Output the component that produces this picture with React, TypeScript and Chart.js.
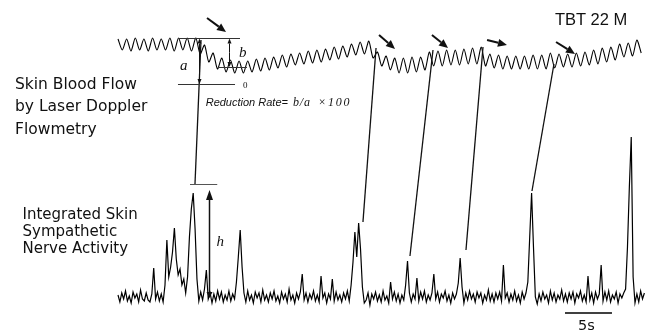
import React, { useEffect, useRef } from "react";
import { Chart, registerables } from "chart.js";

Chart.register(...registerables);

// ---- time base (seconds) ----
const BF_DT = 0.46; // sampling step of the blood-flow trace (s)
const SNA_DT = 0.2; // sampling step of the nerve-activity trace (s)
const X_MIN = -12.553;
const X_MAX = 57.128;

// ---- Skin blood flow (laser Doppler), arbitrary units, 0 = zero-flow line ----
const bloodFlow = [
  45, 34, 45, 33, 46, 34, 45, 33, 46, 34,
  45, 34, 46, 33, 46, 34, 46, 33, 46, 30,
  39, 22, 31, 15, 26, 12, 24, 11, 23, 11,
  23, 12, 25, 13, 26, 14, 27, 16, 29, 17,
  30, 19, 31, 20, 33, 21, 34, 22, 35, 24,
  37, 25, 38, 27, 40, 29, 42, 30, 43, 26,
  32, 18, 28, 14, 26, 11, 26, 11, 27, 12,
  27, 14, 32, 18, 33, 18, 34, 19, 34, 19,
  35, 20, 36, 20, 37, 18, 30, 16, 29, 15,
  28, 15, 28, 15, 28, 15, 29, 15, 29, 15,
  31, 16, 30, 17, 30, 17, 31, 18, 32, 19,
  34, 20, 36, 22, 37, 24, 40, 27, 41, 28,
  44, 31,
];

// ---- Integrated skin sympathetic nerve activity, arbitrary units, 0 = baseline ----
const nerveActivity = [
  2, -5, 4, -2, 6, -4, 1, -6, 5, -1, 3, -5, 7, -2, -4, 4, -3, -5, 3, 29,
  -2, 5, -4, 3, -5, 12, 57, 20, 30, 45, 69, 38, 22, 28, 12, 18, 4, 20, 60, 88,
  104, 68, 18, -4, 5, -3, 8, 27, -2, 4, -6, 3, -4, 6, -2, 5, -5, 2, -3, 6,
  -4, 3, -2, 15, 40, 67, 30, 4, -5, 6, -3, 2, -6, 5, -1, 4, -5, 7, -3, 2,
  -5, 4, -2, 6, -4, 1, -6, 5, -2, 3, -5, 8, -3, 2, -6, 4, -2, 5, 23, -3,
  4, -5, 3, -2, 6, -4, 2, -5, 21, -1, 4, -6, 3, -2, 18, -4, 5, -3, 2, -5,
  4, -2, 6, -4, 12, 35, 65, 40, 74, 48, 10, -6, -3, 4, -8, 3, -2, 5, -4, 2,
  -5, 6, -3, 1, -6, 15, -2, 5, -4, 3, -6, 2, -3, 12, 36, 4, -5, 3, -2, 19,
  -4, 5, -2, 6, -5, 2, -3, 4, 23, -2, 5, -5, 3, -1, 6, -4, 2, -6, 4, -2,
  3, 14, 39, 10, -6, 4, -3, 6, -2, 3, -5, 5, -1, 4, -6, 2, -3, 7, -4, 3,
  -5, 4, -2, 5, -4, 32, -1, 4, -5, 3, -3, 6, -4, 2, -6, 5, -2, 4, 15, 60,
  104, 50, 0, -7, 3, -4, 5, -2, 2, -6, 6, -3, 4, -5, 2, -2, 7, -4, 3, -5,
  4, -2, 5, -6, 3, -1, 6, -4, 2, -5, 21, -3, 4, -6, 5, -2, 3, 32, -4, 5,
  -3, 6, -5, 2, -2, 5, -6, 3, -1, 4, 8, 50, 110, 160, 20, -6, 3, -5, 6, -2, 4,
];

// ---- lines linking a flow reduction to its nerve burst ----
const linkFlowTime = [8.83, 27.45, 33.51, 38.83, 46.38];
const linkFlowValue = [44, 36, 34, 37, 20];
const linkNerveTime = [8.19, 26.06, 31.06, 37.02, 44.04];
const linkNerveValue = [113, 75, 41, 47, 106];

// ---- heavy arrows marking reductions (flow units) ----
const arrowStartTime = [9.47, 27.77, 33.4, 39.26, 46.6];
const arrowStartValue = [66, 49, 49, 44, 42];
const arrowEndTime = [11.49, 29.47, 35.11, 41.38, 48.62];
const arrowEndValue = [52, 35, 36, 39, 30];

// ---- reduction-rate construction (flow units) ----
const refTopValue = 46; // level before reduction
const refZeroValue = 0; // zero flow
const reducedValue = 17; // level after reduction
const aTime = 8.62;
const bTime = 11.81;
const topLineTimes = [6.38, 12.98];
const zeroLineTimes = [6.38, 12.45];
const bLineTimes = [10.64, 13.72];

// ---- burst height h (nerve units) ----
const hTime = 9.68;
const hTopValue = 107;
const hBottomValue = -1;
const hBarValue = 113;
const hBarTimes = [7.66, 10.56];

// ---- 5 s scale bar ----
const scaleBarTimes = [47.55, 52.55];
const scaleBarValue = -16;

function drawArrow(ctx: CanvasRenderingContext2D, x1: number, y1: number, x2: number, y2: number, head: number, width: number, lw: number) {
  const ang = Math.atan2(y2 - y1, x2 - x1);
  const bx = x2 - head * Math.cos(ang);
  const by = y2 - head * Math.sin(ang);
  ctx.lineWidth = lw;
  ctx.beginPath();
  ctx.moveTo(x1, y1);
  ctx.lineTo(bx, by);
  ctx.stroke();
  ctx.beginPath();
  ctx.moveTo(x2, y2);
  ctx.lineTo(bx + (width / 2) * Math.sin(ang), by - (width / 2) * Math.cos(ang));
  ctx.lineTo(bx - (width / 2) * Math.sin(ang), by + (width / 2) * Math.cos(ang));
  ctx.closePath();
  ctx.fill();
}

const annotate = {
  id: "annotate",
  afterDatasetsDraw(chart: any) {
    const { ctx, scales } = chart;
    const X = (t: number) => scales.x.getPixelForValue(t);
    const B = (v: number) => scales.yBF.getPixelForValue(v);
    const N = (v: number) => scales.yN.getPixelForValue(v);
    const crisp = (y: number) => Math.round(y) + 0.5;
    ctx.save();
    ctx.lineCap = "butt";

    // link lines
    ctx.strokeStyle = "#111";
    ctx.lineWidth = 1.3;
    for (let i = 0; i < linkFlowTime.length; i++) {
      ctx.beginPath();
      ctx.moveTo(X(linkFlowTime[i]), B(linkFlowValue[i]));
      ctx.lineTo(X(linkNerveTime[i]), N(linkNerveValue[i]));
      ctx.stroke();
    }

    // construction lines
    ctx.strokeStyle = "#333";
    ctx.lineWidth = 1;
    const hline = (y: number, x1: number, x2: number) => {
      ctx.beginPath();
      ctx.moveTo(x1, crisp(y));
      ctx.lineTo(x2, crisp(y));
      ctx.stroke();
    };
    hline(B(refTopValue), X(topLineTimes[0]), X(topLineTimes[1]));
    hline(B(refZeroValue), X(zeroLineTimes[0]), X(zeroLineTimes[1]));
    hline(B(reducedValue), X(bLineTimes[0]), X(bLineTimes[1]));
    ctx.strokeStyle = "#555";
    hline(N(hBarValue), X(hBarTimes[0]), X(hBarTimes[1]));

    // double arrows a and b
    ctx.strokeStyle = "#111";
    ctx.fillStyle = "#111";
    const dbl = (t: number, v1: number, v2: number) => {
      const x = Math.round(X(t)) + 0.5;
      const y1 = B(v1);
      const y2 = B(v2);
      const m = (y1 + y2) / 2;
      drawArrow(ctx, x, m, x, y1 + 0.5, 5, 4, 1);
      drawArrow(ctx, x, m, x, y2, 5, 4, 1);
    };
    dbl(aTime, refTopValue, refZeroValue);
    dbl(bTime, refTopValue, reducedValue);

    // h arrow
    const hx = Math.round(X(hTime)) + 0.5;
    drawArrow(ctx, hx, N(hBottomValue) - 8, hx, N(hTopValue), 10, 7, 1.5);
    drawArrow(ctx, hx, N(hBottomValue) - 8, hx, N(hBottomValue), 6, 6, 1.5);

    // heavy arrows
    for (let i = 0; i < arrowStartTime.length; i++) {
      drawArrow(ctx, X(arrowStartTime[i]), B(arrowStartValue[i]), X(arrowEndTime[i]), B(arrowEndValue[i]), 9, 8, 2);
    }

    // scale bar
    ctx.strokeStyle = "#000";
    ctx.lineWidth = 1.5;
    ctx.beginPath();
    ctx.moveTo(X(scaleBarTimes[0]), N(scaleBarValue));
    ctx.lineTo(X(scaleBarTimes[1]), N(scaleBarValue));
    ctx.stroke();

    ctx.restore();
  },
};

type TxtProps = {
  x: number;
  base: number;
  size: number;
  family: string;
  italic?: boolean;
  spacing?: number;
  color?: string;
  children: React.ReactNode;
};

function Txt({ x, base, size, family, italic, spacing, color, children }: TxtProps) {
  return (
    <div
      style={{
        position: "absolute",
        left: x,
        top: base - 0.345 * size,
        lineHeight: 0,
        fontSize: size,
        fontFamily: family,
        fontStyle: italic ? "italic" : "normal",
        letterSpacing: spacing ?? 0,
        color: color ?? "#111",
        whiteSpace: "nowrap",
      }}
    >
      {children}
    </div>
  );
}

const SANS = "'DejaVu Sans', sans-serif";
const ARIAL = "'Liberation Sans', Arial, sans-serif";
const SERIF = "'Liberation Serif', 'Times New Roman', serif";

export default function App() {
  const ref = useRef<HTMLCanvasElement | null>(null);

  useEffect(() => {
    if (!ref.current) return;
    const chart = new Chart(ref.current, {
      type: "line",
      data: {
        datasets: [
          {
            label: "Skin blood flow",
            data: bloodFlow.map((v, i) => ({ x: i * BF_DT, y: v })),
            yAxisID: "yBF",
            borderColor: "#000",
            borderWidth: 1.1,
            pointRadius: 0,
            tension: 0.25,
            fill: false,
          },
          {
            label: "Skin sympathetic nerve activity",
            data: nerveActivity.map((v, i) => ({ x: i * SNA_DT, y: v })),
            yAxisID: "yN",
            borderColor: "#000",
            borderWidth: 1.2,
            pointRadius: 0,
            tension: 0,
            fill: false,
          },
        ],
      },
      options: {
        responsive: false,
        devicePixelRatio: 1,
        animation: false,
        events: [],
        layout: { padding: 0 },
        clip: false as any,
        plugins: { legend: { display: false }, tooltip: { enabled: false }, title: { display: false } },
        scales: {
          x: { type: "linear", min: X_MIN, max: X_MAX, display: false },
          yBF: { type: "linear", min: -251, max: 84, display: false },
          yN: { type: "linear", min: -38, max: 297, display: false },
        },
      },
      plugins: [annotate],
    });
    return () => chart.destroy();
  }, []);

  return (
    <div style={{ position: "fixed", left: 0, top: 0, width: 655, height: 335, background: "#fff", overflow: "hidden" }}>
      <canvas ref={ref} width={655} height={335} style={{ position: "absolute", left: 0, top: 0, width: 655, height: 335 }} />
      <Txt x={555} base={24.3} size={16.5} family={ARIAL}>TBT 22 M</Txt>
      <Txt x={15} base={89.5} size={15.5} family={SANS}>Skin Blood Flow</Txt>
      <Txt x={15} base={111.8} size={15.5} family={SANS}>by Laser Doppler</Txt>
      <Txt x={15} base={134} size={15.5} family={SANS}>Flowmetry</Txt>
      <Txt x={22.5} base={219} size={15} family={SANS}>Integrated Skin</Txt>
      <Txt x={22.5} base={235.7} size={15} family={SANS}>Sympathetic</Txt>
      <Txt x={22.5} base={252.7} size={15} family={SANS}>Nerve Activity</Txt>
      <Txt x={180} base={70} size={15} family={SERIF} italic>a</Txt>
      <Txt x={239} base={57} size={15} family={SERIF} italic>b</Txt>
      <Txt x={243} base={88} size={9} family={SERIF}>0</Txt>
      <Txt x={216.5} base={246} size={15} family={SERIF} italic>h</Txt>
      <Txt x={205.7} base={106} size={11} family={ARIAL} italic>Reduction Rate=</Txt>
      <Txt x={293} base={106} size={12} family={SERIF} italic spacing={0.8}>b/a</Txt>
      <Txt x={318} base={106} size={12} family={SERIF} italic spacing={1.8}>×100</Txt>
      <Txt x={578} base={330} size={14.5} family={SANS}>5s</Txt>
    </div>
  );
}
